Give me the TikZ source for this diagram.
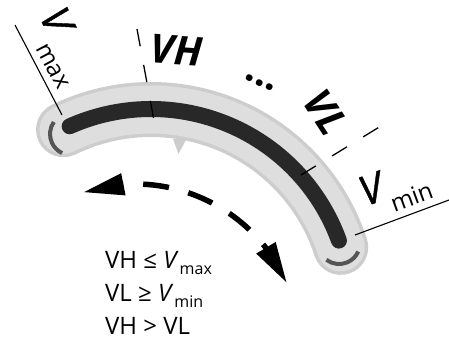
\documentclass[tikz,border=0pt]{standalone}
\usepackage{fontspec}
\setmainfont{Open Sans}
\newfontfamily\vfont{Open Sans}[ItalicFeatures={FakeBold=1}]
\usetikzlibrary{arrows.meta,bending,calc}
\definecolor{barc}{HTML}{282828}
\definecolor{bandedge}{HTML}{CDCDCD}
\definecolor{bandfill}{HTML}{DEDEDE}
\definecolor{endc}{HTML}{555555}
\begin{document}
\begin{tikzpicture}[x=1pt,y=1pt,
  bigtxt/.style={inner sep=0pt, font=\fontsize{40}{40}\selectfont\bfseries\itshape},
  vtxt/.style={inner sep=0pt, font=\fontsize{41}{41}\vfont\itshape},
  subtxt/.style={inner sep=0pt, font=\fontsize{24}{24}\selectfont},
  eqtxt/.style={inner sep=0pt, anchor=base west, font=\fontsize{24}{24}\selectfont},
  limline/.style={line width=1.1pt, black},
  tickline/.style={line width=1.3pt, black, dash pattern=on 17.5pt off 19pt},
  endarc/.style={line width=4pt, color=endc},
  movearrow/.style={line width=5.5pt, black, dash pattern=on 26pt off 20pt, dash phase=24pt,
     {Triangle[length=41pt,width=21pt,flex]}-{Triangle[length=41pt,width=21pt,flex]}}
]
\useasboundingbox (0,0) rectangle (449,343);
\coordinate (C) at (151,34);
\coordinate (A) at (135,-7);
% light band
\draw[line cap=round, line width=55pt, bandedge] ($(C)+(116:199.5)$) arc[start angle=116, end angle=18, radius=199.5];
\fill[bandedge] (173,204) -- (187,205) -- (178.5,189) -- cycle;
\draw[line cap=round, line width=48pt, bandfill] ($(C)+(116:199.5)$) arc[start angle=116, end angle=18, radius=199.5];
% dark bar
\draw[line cap=round, line width=16pt, barc] ($(C)+(114:200)$) arc[start angle=114, end angle=20, radius=200];
% end marks
\draw[endarc] (53.8,221) arc[start angle=145, end angle=245, radius=21];
\draw[endarc] (326.4,83.2) arc[start angle=233, end angle=336, radius=21];
% ticks
\coordinate (vhin) at (153.5,225);
\coordinate (vhout) at (137,314);
\draw[tickline] (vhin) -- (vhout);
\coordinate (vlin) at (301,168);
\coordinate (vlout) at (378.5,215.5);
\draw[tickline] (vlin) -- (vlout);
% limit lines
\coordinate (vmaxin) at (62,228);
\coordinate (vmaxout) at (15,318);
\draw[limline] (vmaxin) -- (vmaxout);
\coordinate (vminin) at (355,108);
\coordinate (vminout) at (449,143);
\draw[limline] (vminin) -- (vminout);
% double arrow
\draw[movearrow] ($(A)+(108.2:166)$) arc[start angle=108.2, end angle=23.8, radius=166];
% labels
\node[bigtxt, rotate=-4] (vh) at (176.5,293) {VH};
\node[bigtxt, rotate=-57] (vl) at (326,230.5) {VL};
\node[inner sep=0pt, font=\fontsize{39}{39}\selectfont\bfseries, rotate=-23] (dots) at (259.5,260.2) {...};
\node[vtxt, rotate=-65] (vmaxV) at (57,323) {V};
\node[subtxt, rotate=-62] (vmaxsub) at (52.5,276.5) {max};
\node[vtxt, rotate=20] (vminV) at (371,154) {V};
\node[subtxt, rotate=20] (vminsub) at (411.5,146.5) {min};
% conditions
\node[eqtxt] (eq1) at (105,75) {VH ≤ \textit{V}\kern1pt\raisebox{-6pt}{\fontsize{16}{16}\selectfont max}};
\node[eqtxt] (eq2) at (105,42) {VL ≥ \textit{V}\kern1pt\raisebox{-6pt}{\fontsize{16}{16}\selectfont min}};
\node[eqtxt] (eq3) at (105,9) {VH > VL};
\end{tikzpicture}
\end{document}
